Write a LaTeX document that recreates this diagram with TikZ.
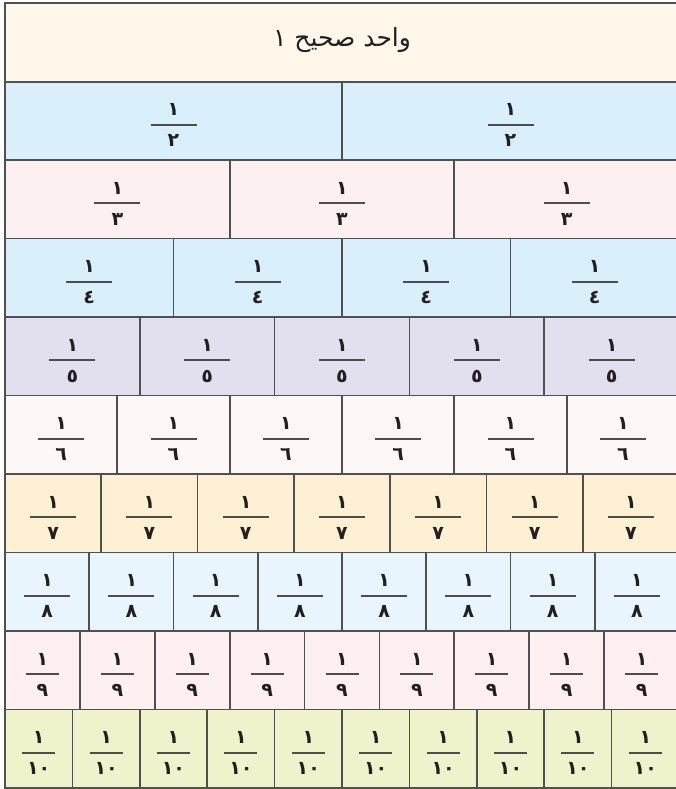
\documentclass[tikz,border=0pt]{standalone}
\usepackage{fontspec}
\TeXXeTstate=1
\newfontfamily\arabicfont[Script=Arabic]{DejaVu Sans}
\newfontfamily\digitfont[Script=Arabic]{DejaVu Sans}
\definecolor{lineg}{HTML}{505050}
\definecolor{txt}{HTML}{231F20}
\definecolor{cTitle}{HTML}{FFF8EA}
\definecolor{cHalf}{HTML}{D9EFFB}
\definecolor{cThird}{HTML}{FCF0F0}
\definecolor{cQuarter}{HTML}{D9EFFB}
\definecolor{cFifth}{HTML}{E2E0EF}
\definecolor{cSixth}{HTML}{FDF8F7}
\definecolor{cSeventh}{HTML}{FEF0D2}
\definecolor{cEighth}{HTML}{E8F5FC}
\definecolor{cNinth}{HTML}{FEF0F1}
\definecolor{cTenth}{HTML}{EEF3CB}
\begin{document}
\begin{tikzpicture}[x=1pt,y=-1pt,
  cellbox/.style={inner sep=0pt, outer sep=0pt, minimum height=78.5pt, anchor=north west},
  cellline/.style={draw=lineg, line width=1.7pt},
  digit/.style={text=txt, font=\digitfont\bfseries\fontsize{19}{19}\selectfont, inner sep=0pt, anchor=base},
  fracbar/.style={draw=txt!80, line width=1.9pt},
  titletext/.style={text=txt, font=\arabicfont\fontsize{25}{30}\selectfont, inner sep=0pt}]
\useasboundingbox (0,0) rectangle (676,789);
\clip (0,0) rectangle (676,789);
% title row
\node[cellbox, fill=cTitle, minimum width=674pt, minimum height=79pt] (title) at (5,3) {};
\node[titletext] (titlelabel) at ([yshift=2pt]title.center) {\beginR واحد صحيح ١\endR};
% fraction rows: fills
\foreach \d/\col/\den in {2/cHalf/٢,3/cThird/٣,4/cQuarter/٤,5/cFifth/٥,6/cSixth/٦,7/cSeventh/٧,8/cEighth/٨,9/cNinth/٩,10/cTenth/١٠}{
  \pgfmathsetmacro\w{674/\d}
  \pgfmathsetmacro\ytop{3+78.5*(\d-1)}
  \pgfmathsetmacro\bw{\d>8 ? 16.5 : 23}
  \foreach \k in {1,...,\d}{
    \node[cellbox, fill=\col, minimum width=\w pt] (c\d-\k) at ({5+(\k-1)*\w},\ytop) {};
    \node[digit] (n\d-\k) at ([yshift=5pt]c\d-\k.center) {١};
    \node[digit] (d\d-\k) at ([yshift=-26pt]c\d-\k.center) {\den};
    \draw[fracbar] ([xshift=-\bw pt,yshift=-4pt]c\d-\k.center) -- ([xshift=\bw pt,yshift=-4pt]c\d-\k.center);
  }
}
% borders
\draw[cellline] (title.north west) rectangle (title.south east);
\foreach \d in {2,...,10}{
  \foreach \k in {1,...,\d}{
    \draw[cellline] (c\d-\k.north west) rectangle (c\d-\k.south east);
  }
}
\end{tikzpicture}
\end{document}
